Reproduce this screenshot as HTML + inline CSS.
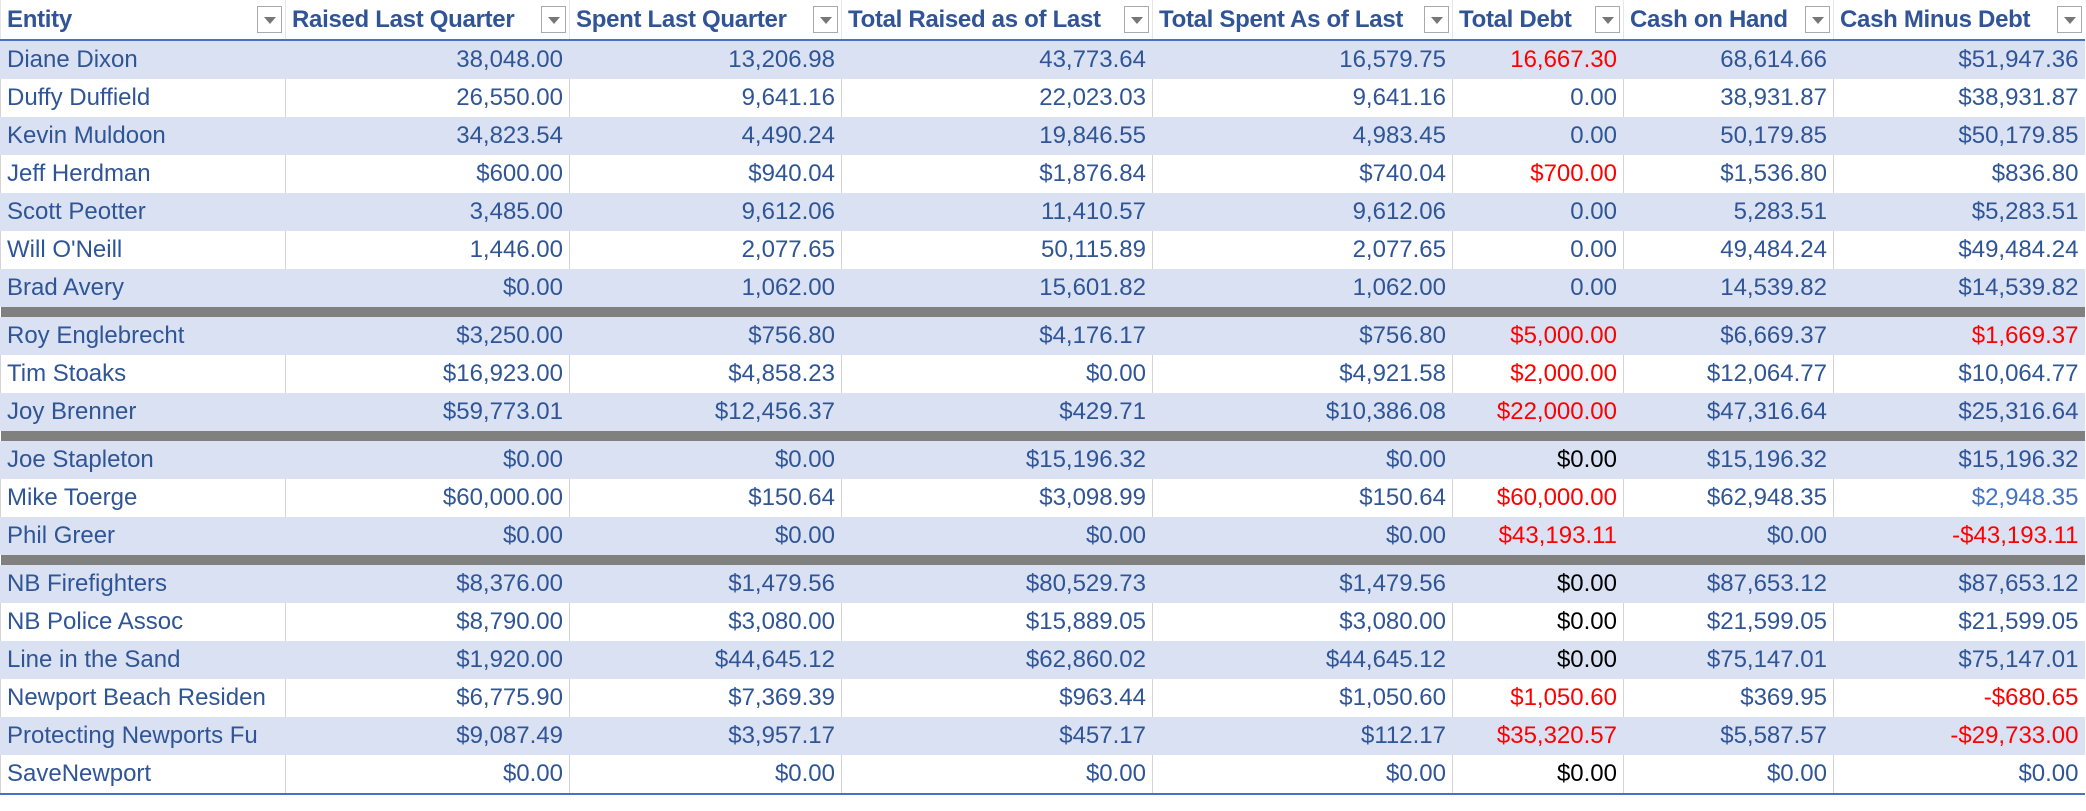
<!DOCTYPE html>
<html><head><meta charset="utf-8">
<style>
body{margin:0;width:2086px;height:811px;background:#fff;overflow:hidden;font-family:"Liberation Sans",sans-serif;}
table{border-collapse:collapse;table-layout:fixed;position:absolute;left:0;top:0;width:2084px;}
td,th{padding:0 6px;white-space:nowrap;overflow:hidden;font-size:24px;color:#2F5597;border-left:1px solid #d4d4d4;}
th{height:39px;text-align:left;font-weight:bold;color:#305496;border-bottom:2px solid #4472C4;position:relative;padding-right:34px;border-left:1px solid #e6e6e6;font-size:24px;letter-spacing:-0.3px;}
td{height:38px;text-align:right;}
td:first-child{text-align:left;}
tr.b td{background:#D9E1F2;border-left-color:#D9E1F2;}
tr.sep td{height:10px;background:#808080;padding:0;border:none;}
tr.last td{border-bottom:2px solid #4472C4;}
.r{color:#FF0000}.k{color:#000}.l{color:#4472C4}
.dd{position:absolute;right:3px;top:6px;width:25px;height:27px;border:1px solid #aaa;background:#fff;box-sizing:border-box;}
.dd:after{content:"";position:absolute;left:6px;top:10px;border-left:6px solid transparent;border-right:6px solid transparent;border-top:7px solid #777;}
</style></head><body>
<table>
<colgroup><col style="width:285px"><col style="width:284px"><col style="width:272px"><col style="width:311px"><col style="width:300px"><col style="width:171px"><col style="width:210px"><col style="width:251px"></colgroup>
<tr>
<th>Entity<span class="dd"></span></th>
<th>Raised Last Quarter<span class="dd"></span></th>
<th>Spent Last Quarter<span class="dd"></span></th>
<th>Total Raised as of Last<span class="dd"></span></th>
<th>Total Spent As of Last<span class="dd"></span></th>
<th>Total Debt<span class="dd"></span></th>
<th>Cash on Hand<span class="dd"></span></th>
<th>Cash Minus Debt<span class="dd"></span></th>
</tr>
<tr class="b"><td>Diane Dixon</td><td>38,048.00</td><td>13,206.98</td><td>43,773.64</td><td>16,579.75</td><td class="r">16,667.30</td><td>68,614.66</td><td>$51,947.36</td></tr>
<tr><td>Duffy Duffield</td><td>26,550.00</td><td>9,641.16</td><td>22,023.03</td><td>9,641.16</td><td>0.00</td><td>38,931.87</td><td>$38,931.87</td></tr>
<tr class="b"><td>Kevin Muldoon</td><td>34,823.54</td><td>4,490.24</td><td>19,846.55</td><td>4,983.45</td><td>0.00</td><td>50,179.85</td><td>$50,179.85</td></tr>
<tr><td>Jeff Herdman</td><td>$600.00</td><td>$940.04</td><td>$1,876.84</td><td>$740.04</td><td class="r">$700.00</td><td>$1,536.80</td><td>$836.80</td></tr>
<tr class="b"><td>Scott Peotter</td><td>3,485.00</td><td>9,612.06</td><td>11,410.57</td><td>9,612.06</td><td>0.00</td><td>5,283.51</td><td>$5,283.51</td></tr>
<tr><td>Will O'Neill</td><td>1,446.00</td><td>2,077.65</td><td>50,115.89</td><td>2,077.65</td><td>0.00</td><td>49,484.24</td><td>$49,484.24</td></tr>
<tr class="b"><td>Brad Avery</td><td>$0.00</td><td>1,062.00</td><td>15,601.82</td><td>1,062.00</td><td>0.00</td><td>14,539.82</td><td>$14,539.82</td></tr>
<tr class="sep"><td colspan="8"></td></tr>
<tr class="b"><td>Roy Englebrecht</td><td>$3,250.00</td><td>$756.80</td><td>$4,176.17</td><td>$756.80</td><td class="r">$5,000.00</td><td>$6,669.37</td><td class="r">$1,669.37</td></tr>
<tr><td>Tim Stoaks</td><td>$16,923.00</td><td>$4,858.23</td><td>$0.00</td><td>$4,921.58</td><td class="r">$2,000.00</td><td>$12,064.77</td><td>$10,064.77</td></tr>
<tr class="b"><td>Joy Brenner</td><td>$59,773.01</td><td>$12,456.37</td><td>$429.71</td><td>$10,386.08</td><td class="r">$22,000.00</td><td>$47,316.64</td><td>$25,316.64</td></tr>
<tr class="sep"><td colspan="8"></td></tr>
<tr class="b"><td>Joe Stapleton</td><td>$0.00</td><td>$0.00</td><td>$15,196.32</td><td>$0.00</td><td class="k">$0.00</td><td>$15,196.32</td><td>$15,196.32</td></tr>
<tr><td>Mike Toerge</td><td>$60,000.00</td><td>$150.64</td><td>$3,098.99</td><td>$150.64</td><td class="r">$60,000.00</td><td>$62,948.35</td><td class="l">$2,948.35</td></tr>
<tr class="b"><td>Phil Greer</td><td>$0.00</td><td>$0.00</td><td>$0.00</td><td>$0.00</td><td class="r">$43,193.11</td><td>$0.00</td><td class="r">-$43,193.11</td></tr>
<tr class="sep"><td colspan="8"></td></tr>
<tr class="b"><td>NB Firefighters</td><td>$8,376.00</td><td>$1,479.56</td><td>$80,529.73</td><td>$1,479.56</td><td class="k">$0.00</td><td>$87,653.12</td><td>$87,653.12</td></tr>
<tr><td>NB Police Assoc</td><td>$8,790.00</td><td>$3,080.00</td><td>$15,889.05</td><td>$3,080.00</td><td class="k">$0.00</td><td>$21,599.05</td><td>$21,599.05</td></tr>
<tr class="b"><td>Line in the Sand</td><td>$1,920.00</td><td>$44,645.12</td><td>$62,860.02</td><td>$44,645.12</td><td class="k">$0.00</td><td>$75,147.01</td><td>$75,147.01</td></tr>
<tr><td>Newport Beach Residen</td><td>$6,775.90</td><td>$7,369.39</td><td>$963.44</td><td>$1,050.60</td><td class="r">$1,050.60</td><td>$369.95</td><td class="r">-$680.65</td></tr>
<tr class="b"><td>Protecting Newports Fu</td><td>$9,087.49</td><td>$3,957.17</td><td>$457.17</td><td>$112.17</td><td class="r">$35,320.57</td><td>$5,587.57</td><td class="r">-$29,733.00</td></tr>
<tr class="last"><td>SaveNewport</td><td>$0.00</td><td>$0.00</td><td>$0.00</td><td>$0.00</td><td class="k">$0.00</td><td>$0.00</td><td>$0.00</td></tr>
</table>
</body></html>
